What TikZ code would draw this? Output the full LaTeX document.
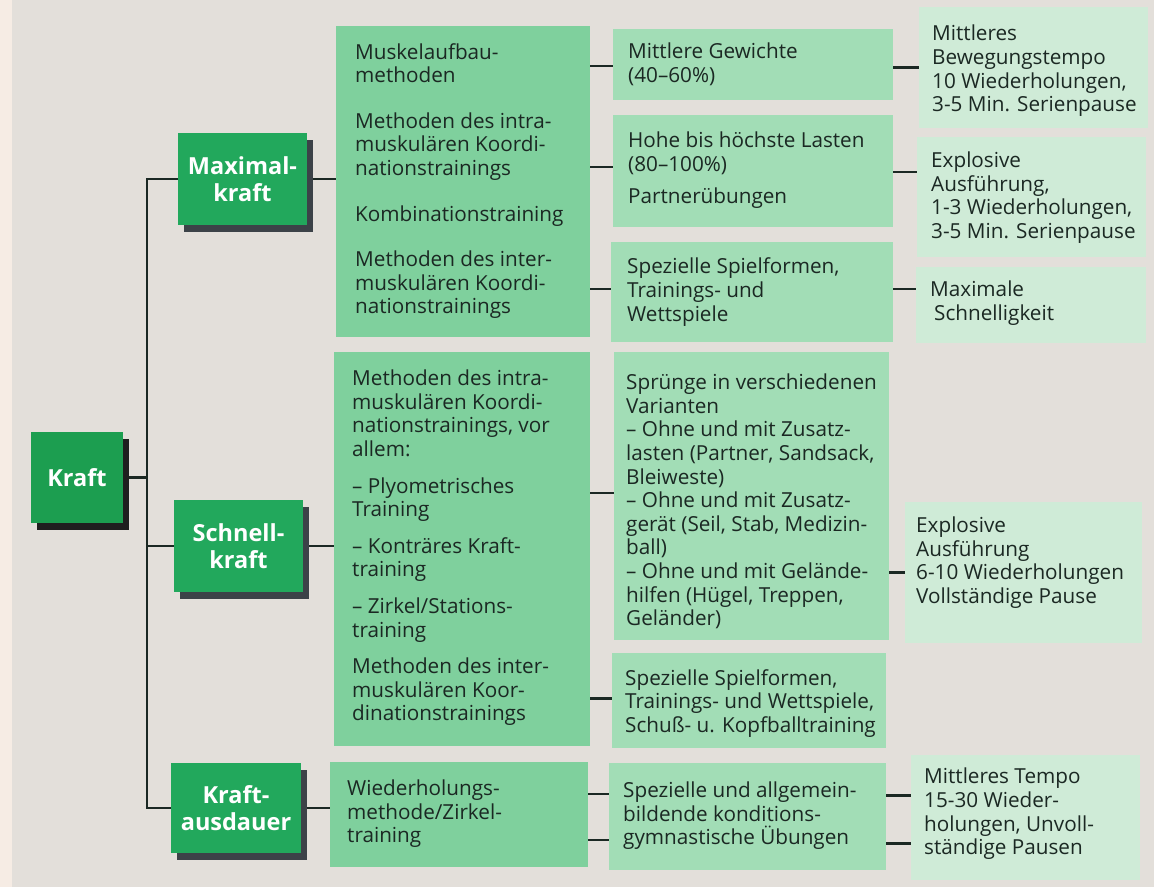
\documentclass[tikz,border=0pt]{standalone}
\usepackage{fontspec}
\setmainfont{Open Sans}
\usetikzlibrary{shadows}
\definecolor{bggray}{HTML}{E3DFDA}
\definecolor{pageedge}{HTML}{F6ECE4}
\definecolor{headgreen}{HTML}{22A85C}
\definecolor{kraftgreen}{HTML}{1C9E50}
\definecolor{shadowgray}{HTML}{3C4248}
\definecolor{midgreen}{HTML}{7FD09D}
\definecolor{lightgreen}{HTML}{A2DDB6}
\definecolor{palegreen}{HTML}{CFEBD7}
\definecolor{ink}{HTML}{1B2823}

\tikzset{
  head/.style={rectangle, fill=headgreen, text=white, inner sep=0pt, align=center,
    font=\fontsize{23.5}{27}\selectfont\bfseries,
    drop shadow={shadow xshift=6pt, shadow yshift=-7pt, fill=#1, opacity=1}},
  head/.default=shadowgray,
  lvltwo/.style={rectangle, fill=midgreen, inner sep=0pt},
  lvlthree/.style={rectangle, fill=lightgreen, inner sep=0pt},
  lvlfour/.style={rectangle, fill=palegreen, inner sep=0pt},
  txt/.style={anchor=west, align=left, inner sep=0pt, text=ink,
    font=\fontsize{20.7}{23.6}\selectfont},
  link/.style={line width=2.4pt, draw=ink}
}

\begin{document}
\begin{tikzpicture}[x=1pt,y=-1pt]
  \fill[bggray] (0,0) rectangle (1154,887);
  \fill[pageedge] (0,0) rectangle (12,887);
  \useasboundingbox (0,0) rectangle (1154,887);

  % main branches
  \node[head=black!88, fill=kraftgreen, minimum width=92pt, minimum height=91pt] (kraft) at (77,477.5) {Kraft};
  \node[head, minimum width=129pt, minimum height=92pt] (maxk) at (242.5,179) {Maximal-\\kraft};
  \node[head, minimum width=129pt, minimum height=92pt] (schnk) at (238.5,546) {Schnell-\\kraft};
  \node[head, minimum width=130pt, minimum height=90pt] (ausd) at (236,808) {Kraft-\\ausdauer};

  % methods
  \node[lvltwo, minimum width=254pt, minimum height=311pt] (m2) at (463,181.5) {};
  \node[lvltwo, minimum width=256pt, minimum height=394pt] (s2) at (462,549) {};
  \node[lvltwo, minimum width=258pt, minimum height=105pt] (k2) at (459,814.5) {};

  % contents
  \node[lvlthree, minimum width=280pt, minimum height=71pt] (m3a) at (753,64.5) {};
  \node[lvlthree, minimum width=280pt, minimum height=112pt] (m3b) at (753,171) {};
  \node[lvlthree, minimum width=282pt, minimum height=100pt] (m3c) at (752,292) {};
  \node[lvlthree, minimum width=275pt, minimum height=288pt] (s3a) at (751.5,496) {};
  \node[lvlthree, minimum width=274pt, minimum height=95pt] (s3b) at (749,700.5) {};
  \node[lvlthree, minimum width=277pt, minimum height=107pt] (k3) at (747.5,816.5) {};

  % load
  \node[lvlfour, minimum width=229pt, minimum height=121pt] (m4a) at (1033.5,67.5) {};
  \node[lvlfour, minimum width=229pt, minimum height=120pt] (m4b) at (1031.5,197) {};
  \node[lvlfour, minimum width=230pt, minimum height=76pt] (m4c) at (1031,305) {};
  \node[lvlfour, minimum width=237pt, minimum height=141pt] (s4) at (1023.5,572.5) {};
  \node[lvlfour, minimum width=229pt, minimum height=125pt] (k4) at (1025.5,817.5) {};

  % texts
  \node[txt] (m2t) at (355,181) {Muskelaufbau-\\methoden\\[22pt]
    Methoden des intra-\\muskulären Koordi-\\nationstrainings\\[22pt]
    Kombinationstraining\\[22pt]
    Methoden des inter-\\muskulären Koordi-\\nationstrainings};
  \node[txt] (s2t) at (352,548) {Methoden des intra-\\muskulären Koordi-\\nationstrainings, vor\\allem:\\[13pt]
    – Plyometrisches\\Training\\[13pt]
    – Konträres Kraft-\\training\\[13pt]
    – Zirkel/Stations-\\training\\[13pt]
    Methoden des inter-\\muskulären Koor-\\dinationstrainings};
  \node[txt] (k2t) at (347,814) {Wiederholungs-\\methode/Zirkel-\\training};

  \node[txt] (m3at) at (628,64.5) {Mittlere Gewichte\\(40–60\%)};
  \node[txt] (m3bt) at (628,170.5) {Hohe bis höchste Lasten\\(80–100\%)\\[9pt]Partnerübungen};
  \node[txt] (m3ct) at (627,292) {Spezielle Spielformen,\\Trainings- und\\Wettspiele};
  \node[txt] (s3at) at (626,501.5) {Sprünge in verschiedenen\\Varianten\\
    – Ohne und mit Zusatz-\\lasten (Partner, Sandsack,\\Bleiweste)\\
    – Ohne und mit Zusatz-\\gerät (Seil, Stab, Medizin-\\ball)\\
    – Ohne und mit Gelände-\\hilfen (Hügel, Treppen,\\Geländer)};
  \node[txt] (s3bt) at (625,703.5) {Spezielle Spielformen,\\Trainings- und Wettspiele,\\Schuß- u. Kopfballtraining};
  \node[txt] (k3t) at (623,816) {Spezielle und allgemein-\\bildende konditions-\\gymnastische Übungen};

  \node[txt] (m4at) at (932,71) {Mittleres\\Bewegungstempo\\10 Wiederholungen,\\3-5 Min. Serienpause};
  \node[txt] (m4bt) at (931,197.5) {Explosive\\Ausführung,\\1-3 Wiederholungen,\\3-5 Min. Serienpause};
  \node[txt] (m4ct) at (930,303) {Maximale\\\hspace*{4pt}Schnelligkeit};
  \node[txt] (s4t) at (916,562.5) {Explosive\\Ausführung\\6-10 Wiederholungen\\Vollständige Pause};
  \node[txt] (k4t) at (924,814) {Mittleres Tempo\\15-30 Wieder-\\holungen, Unvoll-\\ständige Pausen};

  % tree lines
  \coordinate (trunk) at ([xshift=-31pt]maxk.west);
  \draw[link] (maxk.west) -- (trunk) |- (ausd.west);
  \draw[link] ([xshift=6pt]kraft.east) -- (kraft.east -| trunk);
  \draw[link] (schnk.west) -- (schnk.west -| trunk);
  \draw[link] ([xshift=6pt]maxk.east) -- (maxk.east -| m2.west);
  \draw[link] ([xshift=6pt]schnk.east) -- (schnk.east -| s2.west);
  \draw[link] ([xshift=6pt]ausd.east) -- (ausd.east -| k2.west);

  \foreach \from/\to/\dy in {m2/m3a/-1.5,m2/m3b/4,m2/m3c/3,s2/s3a/3,s2/s3b/2,k2/k3/22.5,k2/k3/-23.5}
  {
    \coordinate (p) at ([yshift=\dy pt]\to.west);
    \draw[link] (p) -- (p -| \from.east);
  }
  \foreach \from/\to/\dy in {m3a/m4a/0,m3b/m4b/25,m3c/m4c/16,s3a/s4/0,k3/k4/22,k3/k4/-26}
  {
    \coordinate (p) at ([yshift=\dy pt]\to.west);
    \draw[link] (p) -- (p -| \from.east);
  }
\end{tikzpicture}
\end{document}
